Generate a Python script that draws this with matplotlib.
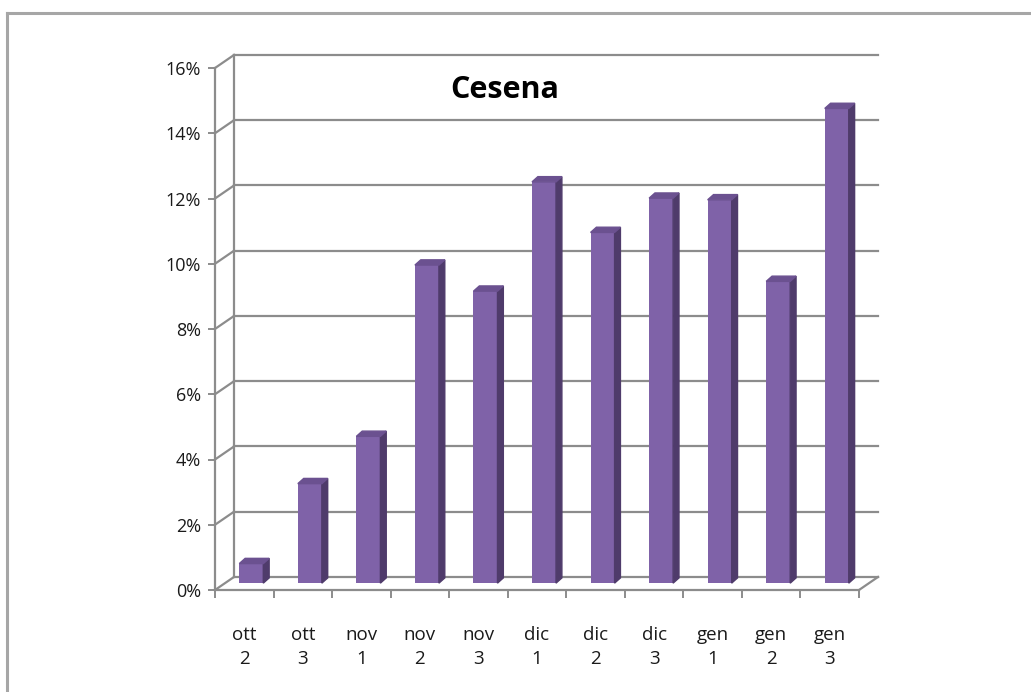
import matplotlib.pyplot as plt
from matplotlib.patches import Polygon

# data
categories = ['ott\n2', 'ott\n3', 'nov\n1', 'nov\n2', 'nov\n3', 'dic\n1',
              'dic\n2', 'dic\n3', 'gen\n1', 'gen\n2', 'gen\n3']
values = [0.6, 3.05, 4.5, 9.75, 8.95, 12.3, 10.75, 11.8, 11.75, 9.25, 14.55]
yticks = [0, 2, 4, 6, 8, 10, 12, 14, 16]
title = 'Cesena'

W, H = 1031, 692
fig = plt.figure(figsize=(W / 100, H / 100), dpi=100)
fig.patch.set_facecolor('white')

# outer chart border (left and top only are visible)
fig.add_artist(plt.Line2D([7 / W, 7 / W], [0, 1 - 13 / H], color='#a6a6a6', lw=2.2))
fig.add_artist(plt.Line2D([7 / W, 1], [1 - 13 / H, 1 - 13 / H], color='#a6a6a6', lw=2.2))

# front plane of the axes
x0, x1 = 215, 859
y0, y1 = 590, 68
ax = fig.add_axes([x0 / W, (H - y0) / H, (x1 - x0) / W, (y0 - y1) / H])
ax.set_xlim(-0.5, len(categories) - 0.5)
ax.set_ylim(0, 16)
ax.patch.set_alpha(0)
for s in ['top', 'right', 'bottom']:
    ax.spines[s].set_visible(False)
ax.spines['left'].set_color('#8c8c8c')
ax.spines['left'].set_linewidth(1.6)

# depth offsets (data units)
bdx, bdy = 0.325, 0.40      # back wall
pdx, pdy = 0.12, 0.21       # bar plane
sdx, sdy = 0.10, 0.16       # bar depth

grid_c = '#8c8c8c'
n = len(categories)
for t in yticks:
    ax.plot([-0.5 + bdx, n - 0.5 + bdx], [t + bdy, t + bdy], color=grid_c, lw=1.6, clip_on=False, zorder=1)
    ax.plot([-0.5, -0.5 + bdx], [t, t + bdy], color=grid_c, lw=1.6, clip_on=False, zorder=1)
ax.plot([-0.5 + bdx, -0.5 + bdx], [bdy, 16 + bdy], color=grid_c, lw=1.6, clip_on=False, zorder=1)
# floor
ax.plot([-0.5, n - 0.5], [0, 0], color=grid_c, lw=1.6, clip_on=False, zorder=1)
ax.plot([n - 0.5, n - 0.5 + bdx], [0, bdy], color=grid_c, lw=1.6, clip_on=False, zorder=1)

# bars
xs = [i + pdx for i in range(n)]
bw = 0.41
front_c, side_c, top_c = '#7f62a8', '#4f3b6b', '#6b5190'
ax.bar(xs, values, width=bw, bottom=pdy, color=front_c, zorder=3, clip_on=False)
for x, v in zip(xs, values):
    r = x + bw / 2
    l = x - bw / 2
    top = v + pdy
    ax.add_patch(Polygon([(r, pdy), (r + sdx, pdy + sdy), (r + sdx, top + sdy), (r, top)],
                         closed=True, color=side_c, zorder=3, clip_on=False))
    ax.add_patch(Polygon([(l, top), (l + sdx, top + sdy), (r + sdx, top + sdy), (r, top)],
                         closed=True, color=top_c, zorder=3, clip_on=False))

# ticks and labels
font = 'Open Sans'
ax.set_yticks(yticks)
ax.set_yticklabels([f'{t}%' for t in yticks], fontsize=13, family=font, color='#1a1a1a')
ax.tick_params(axis='y', length=5, width=1.4, color=grid_c, pad=5)
ax.set_xticks(range(n))
ax.set_xticklabels(categories, fontsize=13.5, family=font, color='#1a1a1a', linespacing=1.45)
ax.tick_params(axis='x', which='major', length=0, pad=26)
ax.set_xticks([i - 0.5 for i in range(n + 1)], minor=True)
ax.tick_params(axis='x', which='minor', length=6, width=1.4, color=grid_c)

fig.text(505 / W, 1 - 90 / H, title, ha='center', va='center', fontsize=22,
         fontweight='bold', family=font)

fig.savefig('out.png', dpi=100)
